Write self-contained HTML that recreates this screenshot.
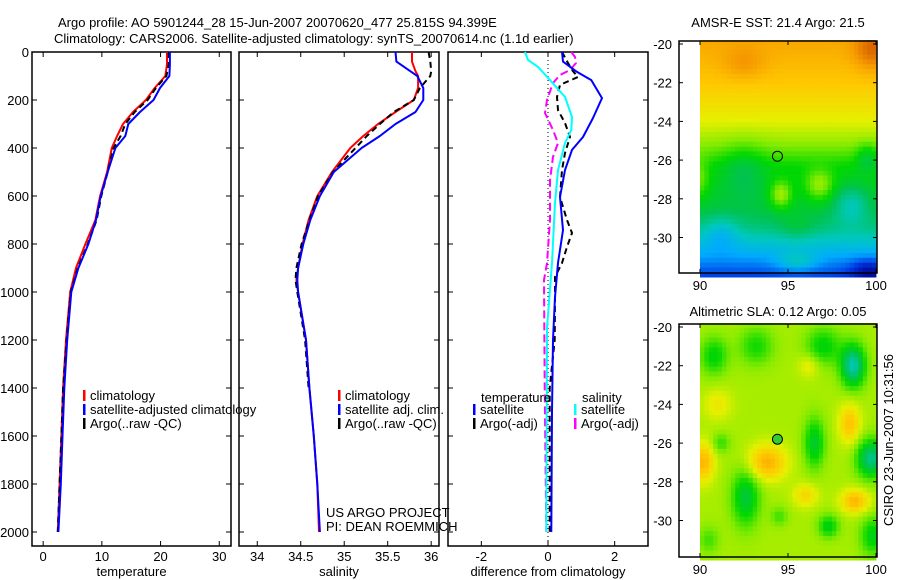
<!DOCTYPE html>
<html><head><meta charset="utf-8"><style>
html,body{margin:0;padding:0;background:#fff;}
svg{display:block;font-family:"Liberation Sans",sans-serif;}
text{font-size:13px;fill:#000;}
.tt{font-size:13px;}
</style></head><body>
<svg id="c" width="900" height="580" viewBox="0 0 900 580" xmlns="http://www.w3.org/2000/svg">
<rect width="900" height="580" fill="#fff"/>
<text class="tt" x="58" y="27">Argo profile: AO 5901244_28 15-Jun-2007 20070620_477 25.815S 94.399E</text>
<text class="tt" x="54" y="43">Climatology: CARS2006. Satellite-adjusted climatology: synTS_20070614.nc (1.1d earlier)</text>
<text x="778" y="27" text-anchor="middle">AMSR-E SST: 21.4 Argo: 21.5</text>
<text x="778" y="316" text-anchor="middle">Altimetric SLA: 0.12 Argo: 0.05</text>
<text transform="translate(893,440) rotate(-90)" text-anchor="middle">CSIRO 23-Jun-2007 10:31:56</text>
<g id="g"></g>
</svg>
<script>
// ---- profile data ----
const tDepth = [0,50,100,150,200,250,300,350,400,500,600,700,800,900,1000,1200,1400,1600,1800,2000];
const tClim  = [21.1,21.1,20.8,19.0,17.5,15.3,13.6,12.6,11.7,10.9,9.7,8.9,7.2,5.6,4.6,3.9,3.4,3.1,2.8,2.5];
const tSat   = [21.6,21.6,21.5,19.9,18.8,16.5,14.5,14.0,12.3,11.0,9.8,9.0,7.7,6.0,4.8,4.1,3.6,3.3,3.0,2.6];
const tArgo  = [21.4,21.4,21.0,19.2,17.8,15.6,14.0,13.2,12.0,11.0,9.9,9.1,7.6,5.9,4.7,4.0,3.4,3.1,2.8,2.5];
const sDepth = [0,40,80,100,150,200,250,300,350,400,500,600,700,800,900,950,1000,1200,1400,1600,1800,2000];
const sClim  = [35.78,35.78,35.82,35.85,35.85,35.80,35.59,35.39,35.22,35.07,34.86,34.69,34.59,34.52,34.47,34.45,34.47,34.56,34.60,34.65,34.69,34.71];
const sSat   = [35.59,35.60,35.76,35.84,35.91,35.91,35.82,35.59,35.41,35.20,34.88,34.72,34.61,34.53,34.47,34.46,34.47,34.56,34.60,34.65,34.69,34.72];
const sArgoDepth = [0,40,80,100,150,200,250,300,350,400,500,600,700,800,900,950,1000,1200,1400];
const sArgo  = [35.97,35.99,36.0,35.99,35.87,35.80,35.57,35.41,35.26,35.13,34.87,34.70,34.60,34.51,34.45,34.44,34.46,34.55,34.59];
const dTSatDepth = [0,40,83,117,192,275,354,408,492,604,742,879,1021,1200,1500,2000];
const dTSat = [0.42,0.45,0.87,1.3,1.62,1.35,1.05,0.72,0.51,0.36,0.45,0.3,0.21,0.15,0.12,0.1];
const dTArgoDepth = [0,46,80,104,137,187,242,296,354,421,492,604,700,754,812,879,937,1021,1200,1400,2000];
const dTArgo = [0.42,0.6,0.75,0.9,0.36,0.27,0.3,0.51,0.66,0.51,0.42,0.36,0.57,0.72,0.57,0.42,0.21,0.21,0.2,0.05,0.05];
const dSSatDepth = [0,33,62,117,187,271,325,379,492,629,879,1150,2000];
const dSSat = [-0.69,-0.6,-0.3,0.06,0.51,0.72,0.7,0.51,0.3,0.21,0.12,-0.03,-0.05];
const dSArgoDepth = [0,21,46,75,96,129,200,254,325,379,437,533,700,879,950,1400,2000];
const dSArgo = [0.7,0.81,0.84,0.66,0.36,0.15,-0.03,-0.09,0.15,0.3,0.15,0.06,0.06,-0.03,-0.12,-0.1,-0.05];
const depthTicks = [0,200,400,600,800,1000,1200,1400,1600,1800,2000];
const tTicks = [0,10,20,30];
const sTicks = [34,34.5,35,35.5,36];
const dTicks = [-2,0,2];
const latTicks = [-20,-22,-24,-26,-28,-30];
const lonTicks = [90,95,100];

const NS="http://www.w3.org/2000/svg";
const G=document.getElementById('g');
function el(tag,attrs,parent){const e=document.createElementNS(NS,tag);for(const k in attrs)e.setAttribute(k,attrs[k]);(parent||G).appendChild(e);return e;}
function txt(x,y,s,anchor,parent){const t=el('text',{x:x,y:y,'text-anchor':anchor||'start'},parent);t.textContent=s;return t;}

const yD = d => 52 + d*0.24;
function panel(name,x0,x1,xmin,xmax,ticks,label,showY){
  const g=el('g',{});
  
  
  const xf=v=>x0+(v-xmin)/(xmax-xmin)*(x1-x0);
  el('rect',{x:x0,y:52,width:x1-x0,height:494,fill:'none',stroke:'#000','stroke-width':1.5},g);
  ticks.forEach(v=>{const x=xf(v);
    el('line',{x1:x,x2:x,y1:546,y2:541,stroke:'#000'},g);
    el('line',{x1:x,x2:x,y1:52,y2:57,stroke:'#000'},g);
    const t=txt(x,561,String(v),'middle',g);
    
    });
  depthTicks.forEach(d=>{const y=yD(d);
    el('line',{x1:x0,x2:x0+5,y1:y,y2:y,stroke:'#000'},g);
    el('line',{x1:x1,x2:x1-5,y1:y,y2:y,stroke:'#000'},g);
    if(showY){const t=txt(x0-3,y+5,String(d),'end',g);
      
      }});
  const l=txt((x0+x1)/2,576,label,'middle',g);
  
  
  return {g,xf};
}
function line(p,xs,ds,color,dash,name,w){
  const pts=xs.map((v,i)=>p.xf(v).toFixed(1)+','+yD(ds[i]).toFixed(1)).join(' ');
  const a={points:pts,fill:'none',stroke:color,'stroke-width':w||2,'stroke-linejoin':'round'};
  if(dash)a['stroke-dasharray']=dash;
  const e=el('polyline',a,p.g);
  
  
}
function legend(g,x,y,color,label){
  el('rect',{x:x,y:y-8,width:2.5,height:11,fill:color},g);
  const t=txt(x+7,y+2,label,'start',g);
  
  
}
// Panel 1
const p1=panel('temperature-panel',32,231,-1.9,32,tTicks,'temperature',true);
line(p1,tClim,tDepth,'#f00',null,'temperature-climatology-line');
line(p1,tArgo,tDepth,'#000','6,4','temperature-argo-line');
line(p1,tSat,tDepth,'#00f',null,'temperature-satellite-line');
legend(p1.g,83,398,'#f00','climatology');
legend(p1.g,83,412,'#00f','satellite-adjusted climatology');
legend(p1.g,83,426,'#000','Argo(..raw -QC)');
// Panel 2
const p2=panel('salinity-panel',239,439,33.79,36.09,sTicks,'salinity',false);
line(p2,sClim,sDepth,'#f00',null,'salinity-climatology-line');
line(p2,sArgo,sArgoDepth,'#000','6,4','salinity-argo-line');
line(p2,sSat,sDepth,'#00f',null,'salinity-satellite-line');
legend(p2.g,338,398,'#f00','climatology');
legend(p2.g,338,412,'#00f','satellite adj. clim.');
legend(p2.g,338,426,'#000','Argo(..raw -QC)');
txt(326,517,'US ARGO PROJECT','start',p2.g);
txt(326,531,'PI: DEAN ROEMMICH','start',p2.g);
// Panel 3
const p3=panel('difference-panel',448,648,-3.0,3.0,dTicks,'difference from climatology',false);
el('line',{x1:p3.xf(0),x2:p3.xf(0),y1:52,y2:546,stroke:'#000','stroke-dasharray':'1,3'},p3.g);
line(p3,dSArgo,dSArgoDepth,'#f0f','8,4','salinity-argo-diff-line');
line(p3,dTArgo,dTArgoDepth,'#000','6,4','temperature-argo-diff-line');
line(p3,dSSat,dSSatDepth,'#0ff',null,'salinity-satellite-diff-line');
line(p3,dTSat,dTSatDepth,'#00f',null,'temperature-satellite-diff-line');
txt(481,402,'temperature','start',p3.g);
txt(582,402,'salinity','start',p3.g);
legend(p3.g,473,412,'#00f','satellite');
legend(p3.g,473,426,'#000','Argo(-adj)');
legend(p3.g,574,412,'#0ff','satellite');
legend(p3.g,574,426,'#f0f','Argo(-adj)');

// ---- maps ----
const stops=[[0,[0,0,140]],[0.15,[0,60,230]],[0.28,[0,170,255]],[0.37,[0,200,190]],[0.45,[0,195,80]],[0.52,[0,215,0]],[0.6,[130,235,0]],[0.68,[230,240,0]],[0.76,[255,200,0]],[0.85,[245,150,0]],[0.95,[210,90,0]],[1,[180,50,0]]];
function cmap(t){t=Math.max(0,Math.min(1,t));for(let i=1;i<stops.length;i++){if(t<=stops[i][0]){const a=stops[i-1],b=stops[i],f=(t-a[0])/(b[0]-a[0]);return 'rgb('+a[1].map((c,k)=>Math.round(c+(b[1][k]-c)*f)).join(',')+')';}}return 'rgb(180,50,0)';}
function gsum(bl,lon,lat){let s=0;bl.forEach(b=>{const dx=(lon-b[0])/b[3],dy=(lat-b[1])/(b[4]||b[3]);s+=b[2]*Math.exp(-(dx*dx+dy*dy));});return s;}
const sstBase=[[-19.8,0.82],[-22,0.76],[-24,0.68],[-25,0.62],[-26.3,0.52],[-28.5,0.47],[-29.5,0.42],[-30.8,0.3],[-31.9,0.16]];
function sstLat(lat){for(let i=1;i<sstBase.length;i++){if(lat>=sstBase[i][0]){const a=sstBase[i-1],b=sstBase[i];return a[1]+(b[1]-a[1])*(lat-a[0])/(b[0]-a[0]);}}return 0.16;}
const sstBlobs=[[92.5,-26.5,-0.06,1.2,1.5],[94.6,-27.8,0.14,0.6,0.7],[96.8,-27.3,0.12,0.8,0.8],[99.6,-31.7,-0.15,1,0.6],[91.2,-29.8,-0.08,1,0.9],[98.6,-28.3,-0.1,1,1],[99.8,-20.3,0.12,1,1],[95.5,-31.3,0.12,1.2,0.5],[92.5,-21,0.06,1.2,0.8],[90,-27,0.08,0.5,1],[99.5,-25.8,-0.08,0.6,0.7],[95.5,-29.5,0.04,1,0.8]];
const slaBlobs=[[90.8,-21.5,-0.12,0.8,1],[93.2,-21,-0.1,1,1],[97,-21,-0.12,1,1],[98.7,-22,-0.25,0.7,1.1],[92.6,-28.8,-0.16,0.8,1.5],[96.5,-26,-0.15,0.6,1.3],[99.7,-26.8,-0.22,0.8,1],[97.3,-30.3,-0.13,0.6,0.6],[99.8,-30.8,-0.13,0.7,1],[91.2,-26,-0.08,0.5,0.5],[94.5,-29.8,-0.07,0.5,0.5],[90.2,-27,0.16,0.6,1],[93.8,-27,0.17,1.1,0.9],[98.5,-25,0.14,0.6,1],[98.8,-29,0.16,0.8,0.6],[96,-28.7,0.1,0.7,0.6],[91,-24,0.07,0.8,0.8],[96.2,-22,0.07,0.6,0.6],[90.5,-31,-0.07,0.6,0.7]];
function map(name,y0,y1,latFn,cy){
  const g=el('g',{});
  
  
  const lx=v=>700+(v-90)*17.6, ly=v=>cy+(-20-v)*19.35;
  for(let lon=90;lon<100;lon+=0.25){for(let lat=-19.8;lat>-31.9;lat-=0.25){
    const v=latFn(lon+0.125,lat-0.125);
    el('rect',{x:lx(lon).toFixed(1),y:ly(lat).toFixed(1),width:4.8,height:5.2,fill:cmap(v)},g);}}
  el('rect',{x:679,y:y0,width:198,height:y1-y0,fill:'none',stroke:'#000','stroke-width':1.5},g);
  latTicks.forEach(v=>{const y=ly(v);el('line',{x1:679,x2:683,y1:y,y2:y,stroke:'#000'},g);el('line',{x1:877,x2:873,y1:y,y2:y,stroke:'#000'},g);
    const t=txt(672,y+5,String(v),'end',g);});
  lonTicks.forEach(v=>{const x=lx(v);el('line',{x1:x,x2:x,y1:y1,y2:y1-4,stroke:'#000'},g);el('line',{x1:x,x2:x,y1:y0,y2:y0+4,stroke:'#000'},g);
    const t=txt(x,y1+17,String(v),'middle',g);});
  return {g,lx,ly};
}
const m1=map('sst-map',41,273,(lo,la)=>sstLat(la)+gsum(sstBlobs,lo,la),44);
el('circle',{cx:m1.lx(94.4),cy:m1.ly(-25.8),r:5,fill:'none',stroke:'#000','stroke-width':1},m1.g);
const m2=map('sla-map',324,557,(lo,la)=>0.63+gsum(slaBlobs,lo,la),327);
el('circle',{cx:m2.lx(94.4),cy:m2.ly(-25.8),r:5,fill:'#3c3',stroke:'#000','stroke-width':1},m2.g);
</script>
</body></html>
